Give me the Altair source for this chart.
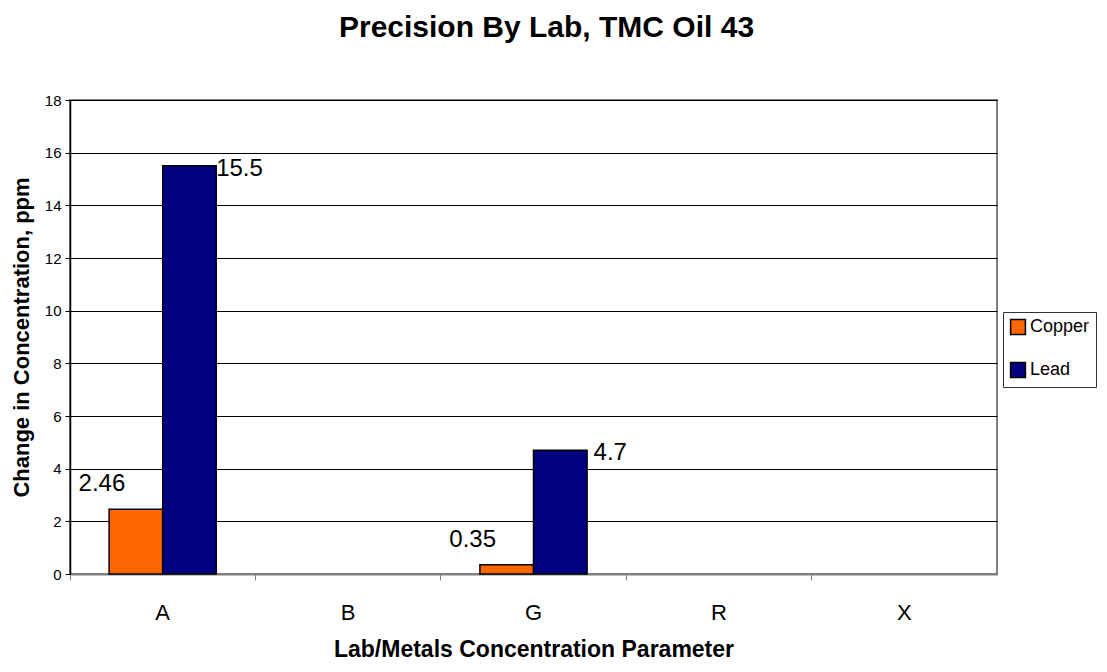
import altair as alt
import pandas as pd

labs = ["A", "B", "G", "R", "X"]
series = ["Copper", "Lead"]
copper = [2.46, None, 0.35, None, None]
lead = [15.5, None, 4.7, None, None]
y_ticks = [0, 2, 4, 6, 8, 10, 12, 14, 16, 18]

rows = []
for lab, c, l in zip(labs, copper, lead):
    if c is not None:
        rows.append({"Lab": lab, "Metal": "Copper", "Value": c, "Label": f"{c:g}"})
    if l is not None:
        rows.append({"Lab": lab, "Metal": "Lead", "Value": l, "Label": f"{l:g}"})
df = pd.DataFrame(rows)

FONT = "Liberation Sans"

x_enc = alt.X(
    "Lab:N",
    scale=alt.Scale(domain=labs, paddingInner=0, paddingOuter=0),
    axis=alt.Axis(
        title="Lab/Metals Concentration Parameter",
        titleFont=FONT, titleFontSize=23, titleFontWeight="bold", titleColor="black",
        titlePadding=15,
        labelFont=FONT, labelFontSize=22, labelColor="black", labelPadding=22,
        labelAngle=0,
        bandPosition=0, ticks=True, tickSize=6, tickColor="#808080", tickWidth=1,
        domainColor="#808080", domainWidth=2, grid=False,
    ),
)
xo_enc = alt.XOffset(
    "Metal:N",
    scale=alt.Scale(domain=series, paddingInner=0, paddingOuter=0.73),
)
y_enc = alt.Y(
    "Value:Q",
    scale=alt.Scale(domain=[0, 18], nice=False),
    axis=alt.Axis(
        values=y_ticks,
        title="Change in Concentration, ppm",
        titleFont=FONT, titleFontSize=22, titleFontWeight="bold", titleColor="black",
        titlePadding=11,
        labelFont=FONT, labelFontSize=15, labelColor="black", labelPadding=4,
        tickSize=5, tickColor="black", domainColor="black", domainWidth=1.5,
        grid=True, gridColor="black", gridWidth=1,
    ),
)

bars = alt.Chart(df).mark_bar(stroke="black", strokeWidth=1.5).encode(
    x=x_enc,
    xOffset=xo_enc,
    y=y_enc,
    color=alt.Color(
        "Metal:N",
        scale=alt.Scale(domain=series, range=["#FF6600", "#000080"]),
        legend=alt.Legend(
            title=None, orient="none", legendX=933, legendY=212,
            labelFont=FONT, labelFontSize=18, labelColor="black",
            symbolType="square", symbolSize=220, symbolStrokeColor="black",
            symbolStrokeWidth=1.5, symbolOpacity=1,
            rowPadding=21, padding=6, strokeColor="#333333",
            labelOffset=3,
        ),
    ),
)

copper_lbl = alt.Chart(df).transform_filter(alt.datum.Metal == "Copper").mark_text(
    font=FONT, fontSize=24, color="black", dx=-34, dy=-25, baseline="middle"
).encode(x=x_enc, xOffset=xo_enc, y=y_enc, text="Label:N")

lead_lbl = alt.Chart(df).transform_filter(alt.datum.Metal == "Lead").mark_text(
    font=FONT, fontSize=24, color="black", dx=50, dy=3, baseline="middle"
).encode(x=x_enc, xOffset=xo_enc, y=y_enc, text="Label:N")

chart = (
    alt.layer(bars, copper_lbl, lead_lbl)
    .properties(
        width=927,
        height=474,
        autosize=alt.AutoSizeParams(type="none"),
        padding={"left": 62, "top": 92, "right": 100, "bottom": 90},
        title=alt.TitleParams(
            "Precision By Lab, TMC Oil 43",
            font=FONT, fontSize=30, fontWeight="bold", color="black",
            anchor="middle", offset=50, dx=13,
        ),
    )
    .configure_view(stroke="#808080", strokeWidth=2)
)

chart.save("out.html", embed_options={"renderer": "svg", "actions": False})
